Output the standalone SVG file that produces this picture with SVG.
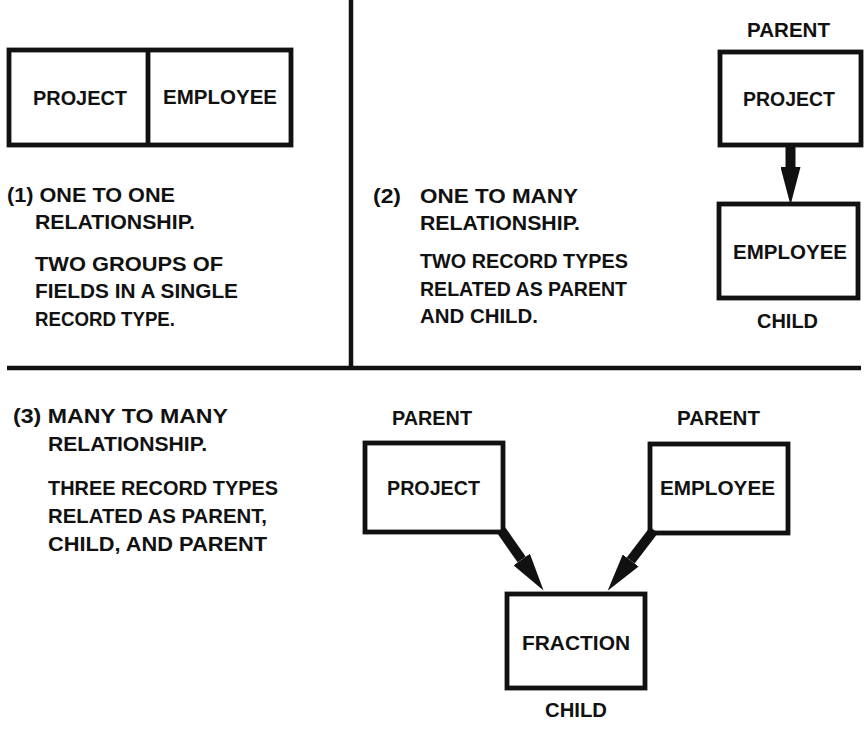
<svg xmlns="http://www.w3.org/2000/svg" width="865" height="730" viewBox="0 0 865 730">
  <style>
    .bg { fill: #ffffff; }
    .box { fill: none; stroke: #111; stroke-width: 4.8; stroke-linejoin: miter; }
    .rule { stroke: #111; stroke-width: 4.5; fill: none; }
    .shaft { stroke: #111; stroke-width: 10; fill: none; stroke-linecap: butt; }
    text { font-family: "Liberation Sans", Arial, sans-serif; font-weight: bold; font-size: 20px; fill: #111; }
  </style>
  <defs>
    <marker id="spear" markerUnits="userSpaceOnUse" markerWidth="38" markerHeight="20" refX="0" refY="10" orient="auto">
      <path d="M0,0 L38,10 L0,20 Z" fill="#111"/>
    </marker>
  </defs>

  <rect class="bg" x="0" y="0" width="865" height="730"/>

  <!-- panel dividers -->
  <g id="dividers">
    <line class="rule" x1="351" y1="0" x2="351" y2="368"/>
    <line class="rule" x1="7" y1="368" x2="861" y2="368"/>
  </g>

  <!-- (1) one to one: single record with two field groups -->
  <g id="record-project-employee">
    <rect class="box" x="9" y="50" width="282" height="95"/>
    <line class="box" x1="148" y1="50" x2="148" y2="145"/>
    <text x="33" y="105" textLength="94" lengthAdjust="spacingAndGlyphs">PROJECT</text>
    <text x="163" y="104" textLength="114" lengthAdjust="spacingAndGlyphs">EMPLOYEE</text>
  </g>
  <g id="caption-1">
    <text x="7" y="202" textLength="168" lengthAdjust="spacingAndGlyphs">(1) ONE TO ONE</text>
    <text x="35" y="229" textLength="160" lengthAdjust="spacingAndGlyphs">RELATIONSHIP.</text>
    <text x="35" y="271" textLength="188" lengthAdjust="spacingAndGlyphs">TWO GROUPS OF</text>
    <text x="35" y="298" textLength="203" lengthAdjust="spacingAndGlyphs">FIELDS IN A SINGLE</text>
    <text x="35" y="326" textLength="140" lengthAdjust="spacingAndGlyphs">RECORD TYPE.</text>
  </g>

  <!-- (2) one to many -->
  <g id="caption-2">
    <text x="373" y="203" textLength="28" lengthAdjust="spacingAndGlyphs">(2)</text>
    <text x="420" y="203" textLength="158" lengthAdjust="spacingAndGlyphs">ONE TO MANY</text>
    <text x="420" y="230" textLength="160" lengthAdjust="spacingAndGlyphs">RELATIONSHIP.</text>
    <text x="420" y="268" textLength="208" lengthAdjust="spacingAndGlyphs">TWO RECORD TYPES</text>
    <text x="420" y="296" textLength="207" lengthAdjust="spacingAndGlyphs">RELATED AS PARENT</text>
    <text x="420" y="323" textLength="118" lengthAdjust="spacingAndGlyphs">AND CHILD.</text>
  </g>
  <g id="p2-project">
    <text x="747" y="37" textLength="83" lengthAdjust="spacingAndGlyphs">PARENT</text>
    <rect class="box" x="720" y="52" width="141" height="93"/>
    <text x="743" y="106" textLength="92" lengthAdjust="spacingAndGlyphs">PROJECT</text>
  </g>
  <g id="p2-employee">
    <rect class="box" x="719" y="204" width="139" height="94"/>
    <text x="733" y="259" textLength="114" lengthAdjust="spacingAndGlyphs">EMPLOYEE</text>
    <text x="757" y="328" textLength="61" lengthAdjust="spacingAndGlyphs">CHILD</text>
  </g>

  <!-- (3) many to many -->
  <g id="caption-3">
    <text x="13" y="423" textLength="215" lengthAdjust="spacingAndGlyphs">(3) MANY TO MANY</text>
    <text x="48" y="451" textLength="159" lengthAdjust="spacingAndGlyphs">RELATIONSHIP.</text>
    <text x="48" y="495" textLength="230" lengthAdjust="spacingAndGlyphs">THREE RECORD TYPES</text>
    <text x="48" y="523" textLength="219" lengthAdjust="spacingAndGlyphs">RELATED AS PARENT,</text>
    <text x="48" y="551" textLength="219" lengthAdjust="spacingAndGlyphs">CHILD, AND PARENT</text>
  </g>
  <g id="p3-project">
    <text x="392" y="425" textLength="80" lengthAdjust="spacingAndGlyphs">PARENT</text>
    <rect class="box" x="365" y="443" width="138" height="89"/>
    <text x="387" y="495" textLength="93" lengthAdjust="spacingAndGlyphs">PROJECT</text>
  </g>
  <g id="p3-employee">
    <text x="677" y="425" textLength="83" lengthAdjust="spacingAndGlyphs">PARENT</text>
    <rect class="box" x="650" y="444" width="138" height="89"/>
    <text x="660" y="495" textLength="115" lengthAdjust="spacingAndGlyphs">EMPLOYEE</text>
  </g>
  <g id="p3-fraction">
    <rect class="box" x="507" y="594" width="138" height="94"/>
    <text x="522" y="650" textLength="108" lengthAdjust="spacingAndGlyphs">FRACTION</text>
    <text x="545" y="717" textLength="62" lengthAdjust="spacingAndGlyphs">CHILD</text>
  </g>

  <!-- parent-to-child connectors -->
  <g id="connectors">
    <line class="shaft" x1="790.5" y1="147" x2="790.5" y2="167" marker-end="url(#spear)"/>
    <line class="shaft" x1="501" y1="530" x2="521.7" y2="559.5" marker-end="url(#spear)"/>
    <line class="shaft" x1="654" y1="530" x2="630.7" y2="560.5" marker-end="url(#spear)"/>
  </g>
</svg>
